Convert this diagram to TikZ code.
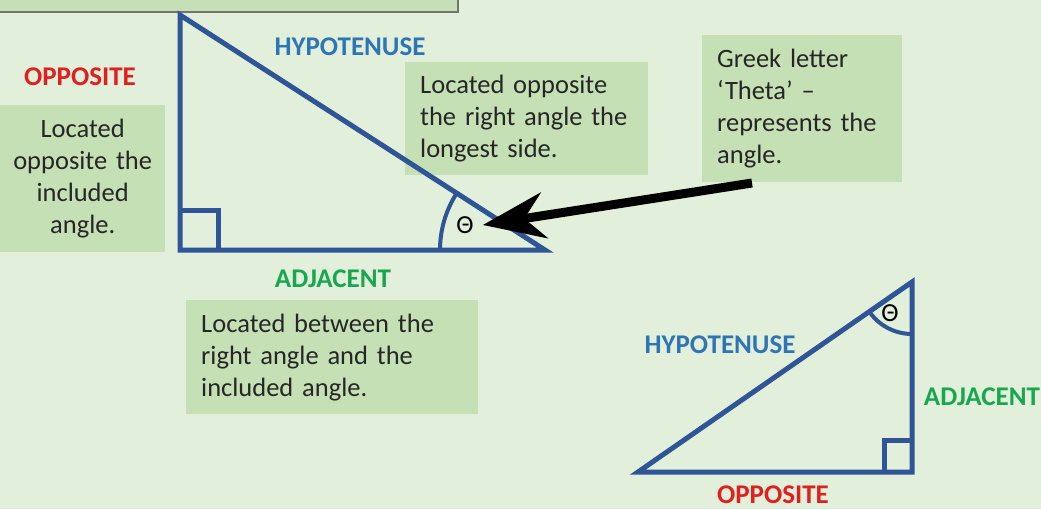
\documentclass[tikz,border=0pt]{standalone}
\usepackage{fontspec}
\setmainfont{Carlito}
\usetikzlibrary{positioning}
\usetikzlibrary{arrows.meta}
\definecolor{bgGreen}{RGB}{226,239,218}
\definecolor{boxGreen}{RGB}{197,224,180}
\definecolor{triBlue}{RGB}{47,85,151}
\definecolor{hypBlue}{RGB}{46,117,182}
\definecolor{oppRed}{RGB}{224,32,32}
\definecolor{adjGreen}{RGB}{24,166,80}
\definecolor{txtGray}{RGB}{38,38,38}
\tikzset{
  infobox/.style={fill=boxGreen, text=txtGray, anchor=north west, inner xsep=15pt, inner ysep=0pt,
    font=\fontsize{26.5}{32}\selectfont},
  sidelabel/.style={font=\bfseries\fontsize{27}{30}\selectfont, inner sep=0pt},
  tri/.style={draw=triBlue, line width=5pt, line join=miter},
  anglearc/.style={draw=triBlue, line width=4pt},
  thetamark/.style={font=\fontsize{26}{28}\selectfont, text=black, inner sep=1pt}
}

\begin{document}
\begin{tikzpicture}[x=1pt,y=1pt]
    \useasboundingbox[fill=bgGreen] (0,0) rectangle (1041,-509);

    % box at the top, cut by the edge
    \draw[fill=boxGreen, draw=gray!90!black, line width=2pt] (-10,10) rectangle (458,-12);

    % boxes with the explanations
    \node[infobox, inner xsep=5pt, text width=155pt, align=center, minimum height=147pt] (oppbox) at (0,-105)
        {Located\\opposite the\\included\\angle.};
    \node[infobox, text width=213pt, align=left, minimum height=113pt] (hypbox) at (405,-62)
        {Located opposite\\the right angle the\\longest side.};
    \node[infobox, text width=170pt, align=left, minimum height=147pt] (greekbox) at (702,-35)
        {Greek letter\\‘Theta’ –\\represents the\\angle.};
    \node[infobox, text width=262pt, align=left, minimum height=114pt] (adjbox) at (186,-300)
        {Located between the\\right angle and the\\included angle.};

    % first triangle: right angle bottom left, theta bottom right
    \coordinate (A1) at (180,-15);
    \coordinate (B1) at (180,-250);
    \coordinate (C1) at (545,-250);
    \draw[tri] (A1) -- (B1) -- (C1) -- cycle;
    \draw[tri] ([yshift=40pt]B1) -| ([xshift=38pt]B1); % right angle
    \draw[anglearc] ([xshift=-105pt]C1) arc[start angle=180, end angle=147.2, radius=105pt]; % angle
    \node[thetamark] (theta1) at (465,-225) {Θ};

    % labels of the first triangle
    \node[sidelabel, text=hypBlue] (hyp1) at (350,-47) {HYPOTENUSE};
    \node[sidelabel, text=oppRed] (opp1) at (80,-77) {OPPOSITE};
    \node[sidelabel, text=adjGreen] (adj1) at (333,-279) {ADJACENT};

    % arrow from the box to theta
    \coordinate (arrowstart) at (752,-183);
    \draw[line width=9pt, -{Stealth[length=62pt, width=46pt, inset=20pt]}] (arrowstart) -- ([xshift=8pt]theta1.east);

    % second triangle: right angle bottom right, theta at the top
    \coordinate (D2) at (638,-472);
    \coordinate (E2) at (912,-282);
    \coordinate (F2) at (912,-472);
    \draw[tri] (D2) -- (E2) -- (F2) -- cycle;
    \draw[tri] ([xshift=-28pt]F2) |- ([yshift=32pt]F2); % right angle
    \draw[anglearc] ([yshift=-52pt]E2) arc[start angle=270, end angle=214.7, radius=52pt]; % angle
    \node[thetamark] (theta2) at (890,-313) {Θ};

    % labels of the second triangle
    \node[sidelabel, text=hypBlue] (hyp2) at (720,-345) {HYPOTENUSE};
    \node[sidelabel, text=adjGreen] (adj2) at (982,-397) {ADJACENT};
    \node[sidelabel, text=oppRed] (opp2) at (773,-495) {OPPOSITE};
\end{tikzpicture}
\end{document}
